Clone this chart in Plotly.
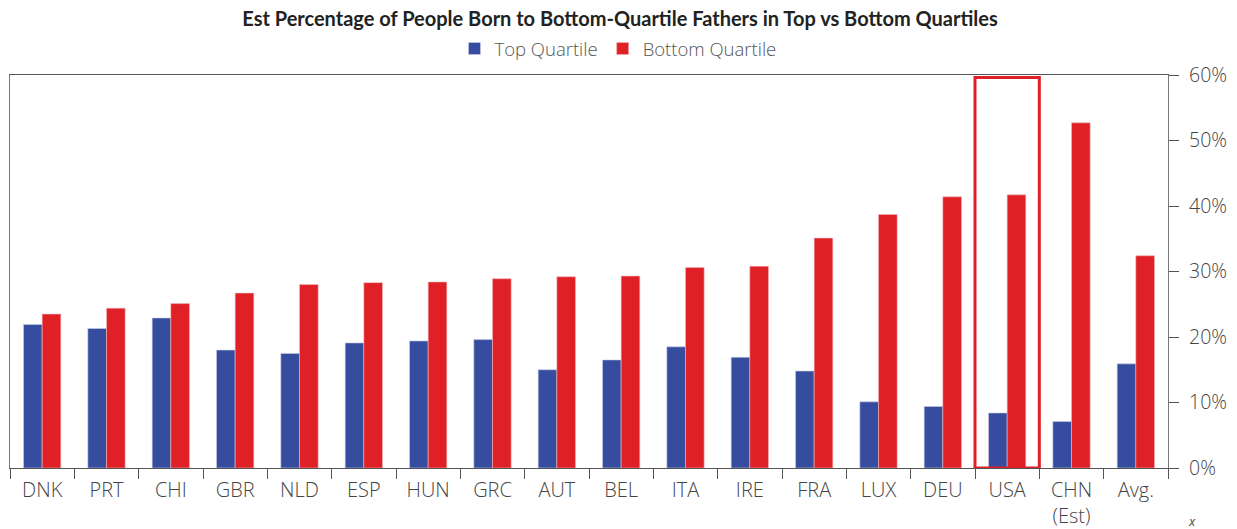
import plotly.graph_objects as go

categories = ["DNK", "PRT", "CHI", "GBR", "NLD", "ESP", "HUN", "GRC", "AUT", "BEL",
              "ITA", "IRE", "FRA", "LUX", "DEU", "USA", "CHN<br>(Est)", "Avg."]
top_quartile = [21.9, 21.3, 22.9, 18.0, 17.5, 19.1, 19.4, 19.6, 15.0, 16.5,
                18.5, 16.9, 14.8, 10.1, 9.4, 8.4, 7.1, 15.9]
bottom_quartile = [23.5, 24.4, 25.1, 26.7, 28.0, 28.3, 28.4, 28.9, 29.2, 29.3,
                   30.6, 30.8, 35.1, 38.7, 41.4, 41.7, 52.7, 32.4]
y_ticks = [0, 10, 20, 30, 40, 50, 60]
y_tick_labels = ["0%", "10%", "20%", "30%", "40%", "50%", "60%"]
highlight = "USA"

BLUE = "#354c9f"
RED = "#df2027"
TXT = "#444444"
FONT = "Open Sans"

# the page body has an 8px margin, so the figure is sized to the visible window
W, H = 1229, 521

fig = go.Figure()
fig.add_trace(go.Bar(x=categories, y=top_quartile, name="Top Quartile",
                     marker=dict(color=BLUE, line=dict(color="#c9cde6", width=0.6))))
fig.add_trace(go.Bar(x=categories, y=bottom_quartile, name="Bottom Quartile",
                     marker=dict(color=RED, line=dict(color="#f2b6b8", width=0.6))))

hi = categories.index(highlight)
fig.add_shape(type="rect", xref="x", yref="y", x0=hi - 0.5, x1=hi + 0.5, y0=0, y1=59.6,
              line=dict(color=RED, width=3), fillcolor="rgba(0,0,0,0)", layer="above")

fig.add_annotation(text="x", xref="paper", yref="paper", x=1.0207, y=-0.135,
                   showarrow=False, font=dict(family=FONT, size=13, color=TXT, style="italic"),
                   xanchor="center", yanchor="middle")

fig.update_layout(
    width=W, height=H,
    margin=dict(l=2, r=69, t=67, b=61, autoexpand=False),
    paper_bgcolor="white", plot_bgcolor="white",
    barmode="group", bargap=0.42, bargroupgap=0,
    title=dict(text="<b>Est Percentage of People Born to Bottom-Quartile Fathers in Top vs Bottom Quartiles</b>",
               x=612 / W, xref="container", xanchor="center",
               y=1 - 11 / H, yref="container", yanchor="middle",
               font=dict(family="Lato", size=20, color="#222222")),
    legend=dict(orientation="h", x=610 / W, xref="container", xanchor="center",
                y=1 - 41 / H, yref="container", yanchor="middle",
                font=dict(family=FONT, size=18.5, color="#555555", weight=300),
                itemwidth=30, traceorder="normal"),
    showlegend=True,
)
fig.update_xaxes(type="category", showline=True, linecolor="#555555", linewidth=1.2, mirror=True,
                 ticks="outside", tickson="boundaries", ticklen=10, tickcolor="#555555",
                 ticklabelstandoff=4,
                 showgrid=False, tickfont=dict(family=FONT, size=20, color=TXT, weight=300))
fig.update_yaxes(side="right", range=[0, 60], tickvals=y_ticks, ticktext=y_tick_labels,
                 showline=True, linecolor="#777777", linewidth=1.2, mirror=True,
                 ticks="outside", ticklen=10, tickcolor="#555555", showgrid=False, zeroline=False,
                 ticklabelstandoff=6,
                 tickfont=dict(family=FONT, size=19.5, color=TXT, weight=300))

fig.write_html("out.html")
